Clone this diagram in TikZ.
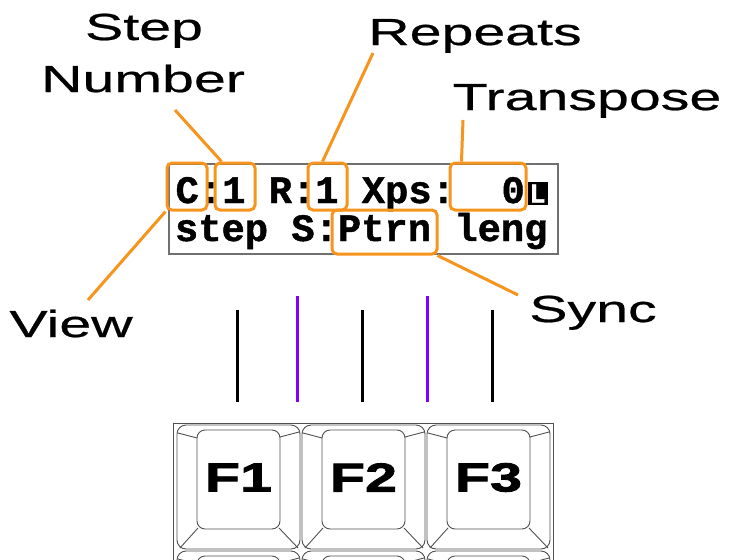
\documentclass[tikz,border=0pt]{standalone}
\usepackage{fontspec}
\newfontfamily\lblfont{Liberation Sans}[FakeStretch=1.52, FakeBold=0.6]
\newfontfamily\lcdfont{Liberation Mono}[BoldFeatures={FakeBold=1.2}]
\newfontfamily\keyfont{Liberation Sans}[FakeStretch=1.42, BoldFeatures={FakeBold=2}]
\definecolor{org}{HTML}{F7941D}
\definecolor{vio}{HTML}{8000FF}
\definecolor{lcdgray}{HTML}{707070}
\definecolor{keygray}{HTML}{505050}
\begin{document}
\begin{tikzpicture}[x=1pt,y=-1pt,
  lbl/.style={font=\lblfont\fontsize{37.7}{40}\selectfont, inner sep=0, anchor=base},
  lcd/.style={font=\lcdfont\bfseries\frenchspacing\fontsize{38.8}{40}\selectfont, inner sep=0, anchor=base west},
  obox/.style={draw=org, line width=3pt, rounded corners=5pt, inner sep=0},
  leader/.style={draw=org, line width=3pt},
  tick/.style={line width=3pt},
  keyline/.style={draw=keygray, line width=0.9pt},
  fkey/.style={font=\keyfont\bfseries\fontsize{40.5}{42}\selectfont, inner sep=0}
]
\useasboundingbox (0,0) rectangle (732,560);
\clip (0,0) rectangle (732,560);

% labels
\node[lbl] (step) at (144,40) {Step};
\node[lbl] (number) at (143,92) {Number};
\node[lbl] (repeats) at (475,45) {Repeats};
\node[lbl] (transpose) at (587,110) {Transpose};
\node[lbl] (view) at (71,337) {View};
\node[lbl] (sync) at (593,322) {Sync};

% LCD
\node[draw=lcdgray, line width=1.2pt, minimum width=389pt, minimum height=90pt, inner sep=0] (lcd) at (363.5,209) {};
\node[lcd] (row1) at (175.4,203) {C:1 R:1 Xps: \ 0};
\node[lcd] (row2) at (174.8,241) {step S:Ptrn leng};
\node[fill=black, minimum width=20pt, minimum height=23pt, inner sep=0] (lbox) at (537.5,193.5) {};
\node[font=\lcdfont\bfseries\fontsize{27}{28}\selectfont, text=white, inner sep=0] (lchar) at (lbox.center) {L};

% orange boxes
\node[obox, minimum width=40pt, minimum height=47pt] (bC) at (187,186.5) {};
\node[obox, minimum width=40pt, minimum height=47pt] (bN) at (235,186.5) {};
\node[obox, minimum width=39pt, minimum height=47pt] (bR) at (327.5,186.5) {};
\node[obox, minimum width=76pt, minimum height=47pt] (bX) at (488,186.5) {};
\node[obox, minimum width=105pt, minimum height=44pt] (bP) at (384.5,232) {};

% leaders
\coordinate (stepE) at (175,110);
\coordinate (repE) at (373,53);
\coordinate (trE) at (463,120);
\coordinate (viewE) at (88,300);
\coordinate (syncE) at (518,295);
\draw[leader] (stepE) -- ([xshift=8pt]bN.north west);
\draw[leader] (repE) -- ([xshift=-5pt]bR.north);
\draw[leader] (trE) -- ([xshift=13pt]bX.north west);
\draw[leader] (viewE) -- (bC.south west);
\draw[leader] (syncE) -- ([xshift=-1pt]bP.south east);

% ticks
\foreach \x in {237,362,492} \draw[tick, black] (\x,310) -- (\x,402);
\foreach \x in {297,427} \draw[tick, vio] (\x,296) -- (\x,402);

% keyboard
\draw[keyline] (173,423) rectangle (553,610);
\foreach \r in {0,1} {
  \foreach \i in {0,1,2} {
    \pgfmathsetmacro\xa{177+125*\i}
    \pgfmathsetmacro\ya{425+126*\r}
    \draw[keyline, rounded corners=9pt] (\xa,\ya) rectangle (\xa+123,\ya+124);
    \draw[keyline, rounded corners=8pt] (\xa+20,\ya+5) rectangle (\xa+103,\ya+104);
    \draw[keyline] (\xa+1,\ya+8) -- (\xa+20,\ya+13);
    \draw[keyline] (\xa+103,\ya+12) -- (\xa+122,\ya+7);
    \draw[keyline] (\xa+3,\ya+123) -- (\xa+21,\ya+103);
    \draw[keyline] (\xa+102,\ya+103) -- (\xa+121,\ya+123);
  }
}
\node[fkey] (f1) at (238.5,477.5) {F1};
\node[fkey] (f2) at (363.5,477.5) {F2};
\node[fkey] (f3) at (488.5,477.5) {F3};
\end{tikzpicture}
\end{document}
